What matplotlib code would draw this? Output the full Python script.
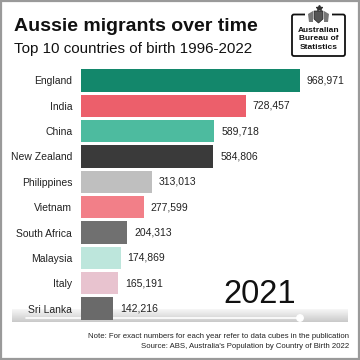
import matplotlib
matplotlib.use("Agg")
import matplotlib.pyplot as plt
import numpy as np
from matplotlib.patches import FancyBboxPatch, Rectangle, Polygon, Circle

countries = ["England", "India", "China", "New Zealand", "Philippines",
             "Vietnam", "South Africa", "Malaysia", "Italy", "Sri Lanka"]
values = [968971, 728457, 589718, 584806, 313013,
          277599, 204313, 174869, 165191, 142216]
colors = ["#13876b", "#ec5f6b", "#4dbb9f", "#3a3a3a", "#bfbfbf",
          "#f27f88", "#707070", "#bde6dc", "#e8c3cf", "#6a6a6a"]
year = "2021"
title = "Aussie migrants over time"
subtitle = "Top 10 countries of birth 1996-2022"
note1 = "Note: For exact numbers for each year refer to data cubes in the publication"
note2 = "Source: ABS, Australia's Population by Country of Birth 2022"
logo_lines = ["Australian", "Bureau of", "Statistics"]

NF = ["Liberation Sans", "DejaVu Sans"]

W = H = 360
fig = plt.figure(figsize=(3.6, 3.6), dpi=100)
fig.patch.set_facecolor("white")

def fx(x):
    return x / W
def fy(y):
    return 1 - y / H

# background axes (pixel coords) for the progress band
bg = fig.add_axes([0, 0, 1, 1])
bg.axis("off")
grad = np.linspace(0, 1, 50).reshape(-1, 1)
cmap = matplotlib.colors.LinearSegmentedColormap.from_list("g", ["#f2f2f2", "#a6a6a6"])
bg.imshow(grad, extent=(12, 348, 322, 309.5), cmap=cmap, aspect="auto", alpha=0.6, zorder=1)
bg.plot([26, 300], [318, 318], color="white", lw=1.2, zorder=2, solid_capstyle="round")
bg.add_patch(Circle((300, 318), 3.2, color="white", zorder=3))
bg.set_xlim(0, W)
bg.set_ylim(H, 0)

# axes for bars
xmax = values[0] * 267 / 219
ax = fig.add_axes([fx(81), fy(321.2), 267 / W, 253.4 / H])
ax.barh(range(len(values)), values, height=0.88, color=colors)
ax.set_xlim(0, xmax)
ax.set_ylim(len(values) - 0.5, -0.5)
ax.set_yticks(range(len(values)), countries, family=NF, fontsize=7.5, color="#222222")
ax.set_xticks([])
ax.tick_params(axis="y", length=0, pad=6.3)
for s in ax.spines.values():
    s.set_visible(False)
ax.patch.set_alpha(0)
for i, v in enumerate(values):
    ax.annotate(f"{v:,}", (v, i), xytext=(5, 0), textcoords="offset points",
                va="center", ha="left", family=NF, fontsize=7.5, color="#222222")

# titles
fig.text(fx(14), fy(31), title, family=NF, fontweight="bold", fontsize=14,
         color="#111111", va="baseline", ha="left")
fig.text(fx(14), fy(53), subtitle, family=NF, fontsize=10.9,
         color="#111111", va="baseline", ha="left")

# year
fig.text(fx(260), fy(303), year, family=NF, fontsize=23.5, color="#111111",
         va="baseline", ha="center")

# overlay axes (pixel coords)
ov = fig.add_axes([0, 0, 1, 1])
ov.axis("off")
ov.patch.set_alpha(0)

# logo
ov.add_patch(FancyBboxPatch((292, 14.5), 53, 41.5, boxstyle="round,pad=0,rounding_size=2",
                            fc="white", ec="#111111", lw=1.3, zorder=4))
ov.add_patch(Rectangle((305, 12), 27, 6, fc="white", ec="none", zorder=5))
ov.add_patch(Polygon([(314, 11), (323, 11), (323, 19), (318.5, 23), (314, 19)],
                     closed=True, fc="#555555", ec="#222222", lw=0.5, zorder=6))
ov.add_patch(Polygon([(308, 14), (313, 11), (313, 22), (309, 22)], closed=True,
                     fc="#777777", ec="none", zorder=6))
ov.add_patch(Polygon([(329, 14), (324, 11), (324, 22), (328, 22)], closed=True,
                     fc="#777777", ec="none", zorder=6))
ov.plot([318.5], [8], marker="*", ms=4, color="#333333", zorder=6)
for j, line in enumerate(logo_lines):
    ov.text(318.5, 30.5 + j * 8.3, line, family=NF, fontweight="bold",
            fontsize=6.0, ha="center", va="center", color="#111111", zorder=7)

# footnotes
fig.text(fx(349), fy(338.5), note1, family=NF, fontsize=5.55, color="#222222",
         ha="right", va="baseline")
fig.text(fx(349), fy(348.5), note2, family=NF, fontsize=5.55, color="#222222",
         ha="right", va="baseline")

# frame border
ov.add_patch(Rectangle((0.8, 0.8), W - 1.6, H - 1.6, fill=False, ec="#9a9a9a", lw=1.6, zorder=10))
ov.set_xlim(0, W)
ov.set_ylim(H, 0)

fig.savefig("out.png", dpi=100)
